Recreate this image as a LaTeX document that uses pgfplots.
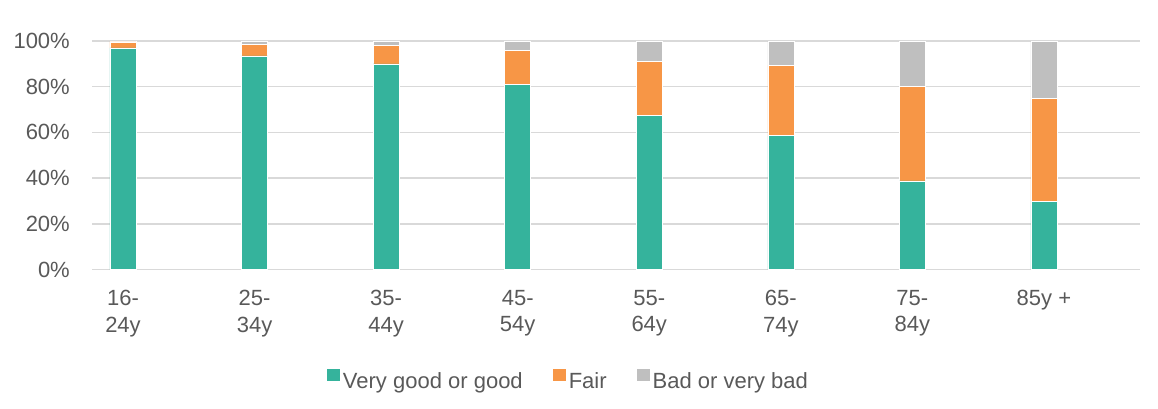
\documentclass[border=0pt]{standalone}
\usepackage{pgfplots}
\pgfplotsset{compat=1.18}
\usepackage{fontspec}
\setmainfont{Liberation Sans}
\definecolor{cgood}{HTML}{35B39C}
\definecolor{cfair}{HTML}{F79646}
\definecolor{cbad}{HTML}{BFBFBF}
\definecolor{textgray}{HTML}{595959}
\definecolor{gridgray}{HTML}{D9D9D9}
\begin{document}
\begin{tikzpicture}
\useasboundingbox (-92pt,-138.5pt) rectangle (1066pt,269.5pt);
\begin{axis}[
  at={(0pt,0pt)}, anchor=south west,
  scale only axis, width=1048pt, height=228.5pt,
  ybar stacked, bar width=26pt,
  xmin=-0.2356, xmax=7.730, ymin=0, ymax=100,
  xtick={0,1,2,3,4,5,6,7},
  xticklabels={{16-\\24y},{25-\\34y},{35-\\44y},{45-\\54y},{55-\\64y},{65-\\74y},{75-\\84y},{85y +}},
  ytick={0,20,40,60,80,100},
  yticklabels={0\%,20\%,40\%,60\%,80\%,100\%},
  major tick length=0pt,
  axis line style={draw=none},
  ymajorgrids, grid style={draw=gridgray, line width=1.4pt},
  xticklabel style={align=center, anchor=north, inner sep=0pt, yshift=-20.5pt, text=textgray, font=\fontsize{22}{26.5}\selectfont},
  yticklabel style={anchor=east, inner sep=0pt, xshift=-22pt, text=textgray, font=\fontsize{22}{26.5}\selectfont},
  legend columns=3,
  legend style={at={(axis description cs:0.4537,-0.4354)}, anchor=north, draw=none, fill=none, inner sep=0pt, outer sep=0pt,
    nodes={inner sep=0pt, text=textgray, font=\fontsize{22}{26.5}\selectfont},
    /tikz/every odd column/.append style={column sep=3pt},
    /tikz/every even column/.append style={column sep=30pt}},
  legend image code/.code={\fill[#1, draw=none] (0pt,0.5pt) rectangle (13pt,12.5pt);},
]
\addplot[fill=cgood, draw=white, line width=0.4pt] coordinates {(0,97.0) (1,93.5) (2,90.0) (3,81.0) (4,67.6) (5,58.6) (6,38.8) (7,29.8)};
\addplot[fill=cfair, draw=white, line width=0.4pt] coordinates {(0,2.6) (1,5.1) (2,8.1) (3,15.0) (4,23.6) (5,30.8) (6,41.5) (7,45.1)};
\addplot[fill=cbad, draw=white, line width=0.4pt] coordinates {(0,0.4) (1,1.4) (2,1.9) (3,4.0) (4,8.8) (5,10.6) (6,19.7) (7,25.1)};
\legend{Very good or good, Fair, Bad or very bad}
\end{axis}
\end{tikzpicture}
\end{document}
